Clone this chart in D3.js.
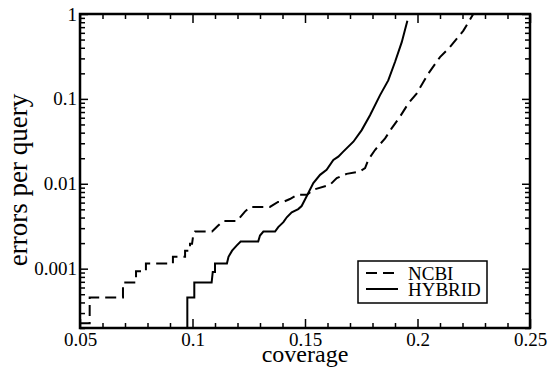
<!DOCTYPE html>
<html>
<head>
  <style>
    body { margin: 0; background: white; }
    .curve { fill: none; stroke: black; stroke-width: 2; }
  </style>
  <script src="https://d3js.org/d3.v7.min.js"></script>
</head>
<body>
  <div id="chart"></div>
  <script>
    // coverage vs errors per query
    const ncbi = [
      [0.0500, 0.000227], [0.0543, 0.000227], [0.0543, 0.000457], [0.0691, 0.000457],
      [0.0691, 0.000685], [0.0749, 0.000685], [0.0749, 0.00093], [0.0793, 0.00093],
      [0.0793, 0.00115], [0.0913, 0.00115], [0.0913, 0.00138], [0.0967, 0.00138],
      [0.0967, 0.00163], [0.0989, 0.00163], [0.0989, 0.00196], [0.0998, 0.00196],
      [0.1003, 0.00245], [0.1011, 0.00274], [0.1087, 0.00274], [0.1113, 0.00320],
      [0.1136, 0.00365], [0.1198, 0.00365], [0.1233, 0.00470], [0.1256, 0.00533],
      [0.1344, 0.00533], [0.1380, 0.00610], [0.1402, 0.00610], [0.1433, 0.00661],
      [0.1464, 0.00740], [0.1509, 0.00743], [0.1536, 0.00850], [0.1611, 0.00972],
      [0.1641, 0.01165], [0.1685, 0.01309], [0.1744, 0.01396], [0.1767, 0.01527],
      [0.1781, 0.0191], [0.1811, 0.0250], [0.1856, 0.0343], [0.1885, 0.0449],
      [0.1922, 0.0616], [0.1959, 0.0882], [0.1996, 0.1155], [0.2048, 0.198],
      [0.2100, 0.311], [0.2144, 0.407], [0.2204, 0.637], [0.2248, 1.0]
    ];
    const hybrid = [
      [0.0977, 0.0002], [0.0977, 0.000457], [0.1008, 0.000457], [0.1008, 0.000685],
      [0.1085, 0.000685], [0.1090, 0.000916], [0.1100, 0.000916], [0.1100, 0.00115],
      [0.1153, 0.00115], [0.1160, 0.00138], [0.1176, 0.00163], [0.1196, 0.00187],
      [0.1214, 0.00209], [0.1292, 0.00209], [0.1300, 0.00246], [0.1315, 0.00274],
      [0.1367, 0.00274], [0.1381, 0.00309], [0.1404, 0.00353], [0.1419, 0.00403],
      [0.1441, 0.00461], [0.1470, 0.00503], [0.1485, 0.00547], [0.1508, 0.00717],
      [0.1537, 0.01019], [0.1567, 0.01274], [0.1596, 0.01458], [0.1626, 0.0191],
      [0.1648, 0.0209], [0.1670, 0.0239], [0.1715, 0.0313], [0.1752, 0.0429],
      [0.1789, 0.0643], [0.1833, 0.110], [0.1870, 0.165], [0.1900, 0.272],
      [0.1930, 0.466], [0.1955, 0.834]
    ];
    const xTicks = [0.05, 0.1, 0.15, 0.2, 0.25];
    const xTickLabels = ["0.05", "0.1", "0.15", "0.2", "0.25"];
    const yTicks = [0.001, 0.01, 0.1, 1];
    const yTickLabels = ["0.001", "0.01", "0.1", "1"];
    const series = [
      { name: "NCBI", values: ncbi, dash: "11,6" },
      { name: "HYBRID", values: hybrid, dash: null }
    ];

    const serif = "'Liberation Serif', 'DejaVu Serif', 'Times New Roman', serif";
    const width = 548;
    const height = 369;
    const margin = { top: 14, right: 18, bottom: 41, left: 80 };
    const w = width - margin.left - margin.right;
    const h = height - margin.top - margin.bottom;

    const svg = d3.select("#chart")
      .append("svg")
      .attr("width", width)
      .attr("height", height)
      .attr("font-family", serif);

    const g = svg.append("g")
      .attr("transform", `translate(${margin.left},${margin.top})`);

    const x = d3.scaleLinear().domain([0.05, 0.25]).range([0, w]);
    const y = d3.scaleLog().domain([0.0002, 1]).range([h, 0]);

    const xMinor = x.ticks(20).filter(t => !xTicks.some(m => Math.abs(m - t) < 1e-9));
    const yMinor = y.ticks().filter(t => !yTicks.some(m => Math.abs(m - t) / m < 1e-6));

    // minor ticks on all four sides
    g.append("g").attr("transform", `translate(0,${h})`)
      .call(d3.axisBottom(x).tickValues(xMinor).tickSize(-5).tickFormat(""));
    g.append("g")
      .call(d3.axisTop(x).tickValues(xMinor).tickSize(-5).tickFormat(""));
    g.append("g")
      .call(d3.axisLeft(y).tickValues(yMinor).tickSize(-5).tickFormat(""));
    g.append("g").attr("transform", `translate(${w},0)`)
      .call(d3.axisRight(y).tickValues(yMinor).tickSize(-5).tickFormat(""));

    // major ticks
    g.append("g").attr("transform", `translate(0,${h})`)
      .call(d3.axisBottom(x).tickValues(xTicks).tickSize(-9).tickPadding(5)
        .tickFormat((d, i) => xTickLabels[i]));
    g.append("g")
      .call(d3.axisTop(x).tickValues(xTicks).tickSize(-9).tickFormat(""));
    g.append("g")
      .call(d3.axisLeft(y).tickValues(yTicks).tickSize(-8).tickPadding(3)
        .tickFormat((d, i) => yTickLabels[i]));
    g.append("g").attr("transform", `translate(${w},0)`)
      .call(d3.axisRight(y).tickValues(yTicks).tickSize(-8).tickFormat(""));

    g.selectAll(".domain").remove();
    g.selectAll(".tick line").attr("stroke", "black").attr("stroke-width", 1.5);
    g.selectAll("g").attr("font-family", serif).attr("font-size", 19);
    g.selectAll(".tick text").attr("fill", "black").style("font-family", serif);

    g.append("clipPath").attr("id", "clip")
      .append("rect").attr("width", w).attr("height", h);

    const line = d3.line()
      .x(d => x(d[0]))
      .y(d => y(d[1]));

    g.append("g").attr("clip-path", "url(#clip)")
      .selectAll("path")
      .data(series)
      .enter()
      .append("path")
      .attr("class", "curve")
      .attr("d", d => line(d.values))
      .attr("stroke-dasharray", d => d.dash);

    g.append("rect")
      .attr("width", w)
      .attr("height", h)
      .attr("fill", "none")
      .attr("stroke", "black")
      .attr("stroke-width", 2.5);

    // axis titles
    svg.append("text")
      .attr("x", margin.left + w / 2)
      .attr("y", 362)
      .attr("text-anchor", "middle")
      .style("font-family", serif)
      .style("font-size", "24px")
      .text("coverage");

    svg.append("text")
      .attr("transform", "translate(27,180) rotate(-90)")
      .attr("text-anchor", "middle")
      .style("font-family", serif)
      .style("font-size", "27px")
      .text("errors per query");

    // legend
    const legend = svg.append("g").attr("transform", "translate(358,261)");
    legend.append("rect")
      .attr("width", 129)
      .attr("height", 42)
      .attr("fill", "white")
      .attr("stroke", "black")
      .attr("stroke-width", 1.5);
    const item = legend.selectAll(".item")
      .data(series)
      .enter()
      .append("g")
      .attr("transform", (d, i) => `translate(0,${12 + i * 16})`);
    item.append("line")
      .attr("x1", 8).attr("x2", 40)
      .attr("stroke", "black")
      .attr("stroke-width", 2)
      .attr("stroke-dasharray", d => d.dash);
    item.append("text")
      .attr("x", 50)
      .attr("y", 7)
      .style("font-family", serif)
      .style("font-size", "19px")
      .text(d => d.name);
  </script>
</body>
</html>
